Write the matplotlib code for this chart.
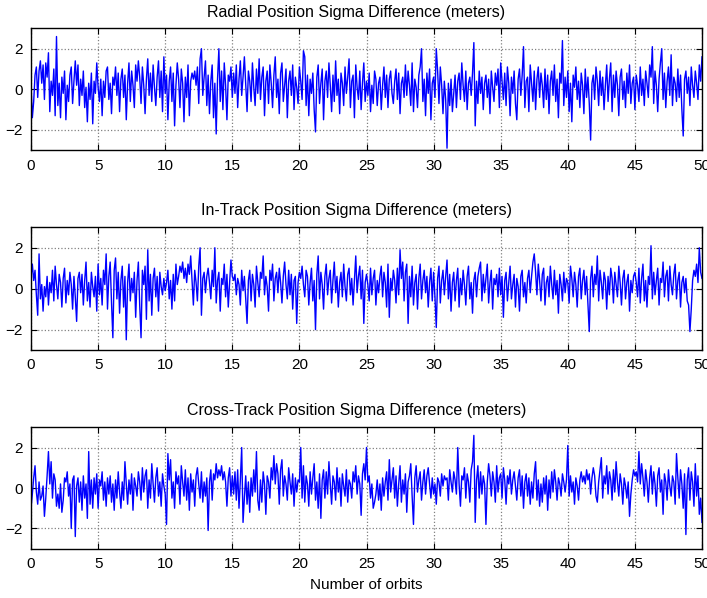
import numpy as np
import matplotlib
matplotlib.use("Agg")
import matplotlib.pyplot as plt

plt.rcParams['font.family'] = ['Liberation Sans', 'DejaVu Sans']

titles = ["Radial Position Sigma Difference (meters)",
          "In-Track Position Sigma Difference (meters)",
          "Cross-Track Position Sigma Difference (meters)"]
xlabel_text = "Number of orbits"
xticks = [0, 5, 10, 15, 20, 25, 30, 35, 40, 45, 50]
yticks = [-2, 0, 2]
sample_step = 0.1  # orbits between samples

radial = [
    0.2, -1.4, -0.6, 0.7, 1.1, -0.4, 0.9, 1.4, 0.3, 1.2,
    -0.5, 1.3, 0.6, 1.8, -1.1, 0.4, -0.3, 1.0, -1.3, 2.6,
    -0.8, 0.3, -1.4, 0.6, -0.2, 0.9, -1.5, 0.2, -0.6, 0.7,
    1.1, -0.7, 0.4, 1.4, 0.2, 1.2, -0.8, 0.5, -0.3, 0.9,
    -0.9, 0.1, -1.6, 0.3, -0.5, 0.8, -1.7, 0.4, -0.2, 1.3,
    0.1, -0.6, 0.5, -1.3, 0.4, -0.4, 0.9, 1.1, -0.5, 0.3,
    -1.2, 0.6, 0.2, 1.1, -0.3, 0.8, -1.1, 0.5, 1.0, -0.4,
    0.7, -1.5, 0.3, 1.3, -0.6, 0.9, 0.2, -0.9, 1.2, 0.4,
    1.4, 0.6, -0.7, 1.1, 0.2, -1.2, 0.5, 1.5, -0.3, 0.8,
    -0.6, 1.2, 0.1, -0.8, 0.6, 1.4, -0.4, 0.9, -1.1, 1.6,
    -0.2, 0.7, -1.5, 0.4, 1.1, -0.6, 0.8, -1.8, 0.2, 1.3,
    0.5, -0.9, 1.0, 0.3, -1.6, 0.6, -0.4, 1.2, -1.3, 0.4,
    0.8, 0.5, 0.9, 0.2, 1.1, -0.7, 1.5, 2.0, -0.3, 0.6,
    1.4, -0.8, 0.7, -1.2, 0.4, 1.2, -1.4, 0.3, -2.2, 0.5,
    2.0, -0.6, 0.9, -1.0, 1.3, 0.2, -1.5, 0.7, 0.4, 1.1,
    -0.4, 0.8, -0.2, 1.2, -0.9, 0.5, 1.4, -0.3, 0.6, 1.6,
    0.3, -1.1, 0.9, 0.4, -0.6, 1.3, 0.1, -0.8, 1.0, -0.2,
    1.5, -0.5, 0.6, 1.1, -1.3, 0.4, 0.9, -0.7, 1.2, 0.3,
    -0.9, 0.7, 1.6, -0.4, 0.5, -1.2, 0.8, 1.3, -0.6, 0.2,
    1.0, -1.4, 0.4, 0.9, -0.3, 1.2, -1.0, 0.6, 0.1, -0.7,
    1.1, 0.4, -0.5, 1.9, 1.6, -0.8, 0.7, -1.3, 0.5, -0.2,
    0.8, -1.0, -2.1, 0.6, 1.2, -0.7, 0.3, 1.0, -1.5, 0.4,
    0.9, -0.4, 1.3, 0.2, -1.1, 0.7, -0.6, 1.4, -0.3, 0.5,
    -1.2, 0.8, 0.3, -0.8, 1.1, -0.2, 0.6, 1.5, -0.9, 0.4,
    0.7, -1.4, 1.2, 0.1, -0.5, 0.9, -1.0, 0.3, 1.3, -0.6,
    0.4, -0.3, 0.8, -1.1, 0.2, -0.7, 0.9, 0.5, -0.8, 0.3,
    0.6, -1.0, 0.2, 1.1, -0.4, 0.7, -0.9, 0.5, 0.9, -0.2,
    -0.7, 0.4, 1.0, -0.5, 0.8, -1.2, 0.3, 0.6, -0.4, 1.2,
    -0.3, 0.9, 0.2, -0.8, 1.3, -1.1, 0.5, 0.1, -0.9, 0.7,
    1.1, 2.0, -0.6, 0.5, -1.3, 0.8, -0.2, 1.0, -1.5, 0.3,
    0.6, -0.4, 2.0, 0.9, -0.7, 1.1, 0.2, -1.2, 0.4, -0.5,
    -2.9, 0.3, -0.8, 0.5, -1.1, -0.2, 0.7, -0.9, 0.4, 0.8,
    -0.5, 1.3, 0.2, -0.6, 0.9, -1.0, 0.3, 0.6, -0.3, 0.8,
    2.3, -1.8, 0.4, -0.7, 0.9, -0.2, 0.6, -1.0, 0.3, 0.7,
    -0.4, 0.5, -1.2, 0.9, 0.1, -0.6, 0.8, 0.2, 1.0, -0.9,
    1.3, 0.4, -0.5, 0.8, -0.8, 1.1, 0.3, -1.3, 0.6, -0.2,
    0.9, -0.7, -1.5, 0.5, 1.0, -0.3, 0.7, 2.1, -0.9, 0.4,
    0.6, -1.1, 1.2, 0.3, -0.6, 0.9, -1.0, 0.5, 1.1, -0.4,
    0.8, 0.2, -0.9, 1.0, -0.5, 0.7, -1.2, 0.4, 0.9, -0.3,
    1.2, -0.6, 0.5, -1.4, 0.8, 0.3, 2.4, -0.8, 0.6, -0.4,
    0.9, -1.1, 0.3, -1.6, 0.7, 0.1, 1.1, -0.5, 0.4, -0.9,
    0.8, 0.2, -1.2, 1.0, -0.4, 0.6, -0.7, -2.5, 0.3, 0.7,
    -0.5, 1.1, 0.4, -0.8, 0.9, -0.3, 0.6, -1.0, 0.2, 1.2,
    -0.6, 0.5, 1.3, -1.1, 0.7, -0.4, 0.9, 0.2, -1.3, 0.6,
    1.0, -0.5, 0.4, -0.9, 0.8, -0.2, 1.2, -0.7, 0.3, 0.6,
    -1.0, 0.7, 0.2, -0.6, 1.1, -0.3, 0.5, -0.8, 0.9, 0.3,
    -0.4, 1.2, 0.6, 2.1, -0.7, 0.9, 0.2, -1.1, 0.5, 1.3,
    2.0, -0.5, 0.8, -0.9, 0.4, 1.1, -0.3, 1.7, -0.8, 0.6,
    0.3, -0.6, 1.0, -0.4, 0.7, -1.0, -2.3, 0.5, 0.9, -0.2,
    0.6, -0.8, 1.1, 0.2, -0.4, 0.9, 0.3, -0.5, 1.2, 0.4,
    1.6]

in_track = [
    0.6, 1.2, 0.4, 0.9, -0.3, -1.3, 1.7, -0.5, 0.2, -1.1,
    0.1, -0.4, 0.6, -0.8, 0.3, -0.2, 0.9, -0.6, 1.1, 0.2,
    -0.5, 0.7, 0.3, -0.9, 0.5, 1.0, -0.7, 0.4, -0.3, 0.8,
    0.2, -1.0, 0.6, -0.4, -1.6, 0.5, 0.8, -0.2, 0.7, -0.8,
    0.4, 1.3, -0.6, 0.3, -0.9, 0.8, 0.1, -0.4, 0.6, -1.1,
    1.2, -0.3, 0.5, -0.8, 0.9, 0.2, 1.7, -1.0, 0.6, 1.3,
    -0.7, -2.4, 0.9, 1.5, -0.5, 0.8, -1.2, 0.4, 1.1, -0.9,
    0.6, -2.5, 0.3, 1.2, -0.6, 0.5, -0.2, 0.8, -1.4, 0.4,
    1.3, -0.8, -2.4, 0.9, 0.2, 1.1, -1.5, 1.9, -0.6, 0.7,
    -1.3, 0.5, 1.0, -0.4, 0.6, -1.1, 0.8, 0.1, -0.3, 0.5,
    -0.1, 0.3, 0.9, -0.5, 0.4, -1.0, 0.7, -0.6, 1.2, 0.2,
    0.6, 1.1, 0.8, 1.3, 0.5, 1.0, 0.3, 1.2, 0.7, 1.6,
    0.4, -0.8, 0.9, 0.3, -0.6, 1.1, 2.0, -1.3, 0.5, 0.8,
    -0.2, 0.6, 1.0, 0.3, -0.5, 0.9, 0.1, 2.0, -0.7, 0.4,
    0.8, -1.1, 0.5, 0.2, 1.2, -0.4, 0.7, -0.9, 0.3, 1.4,
    0.6, 0.4, 0.7, -0.3, 0.5, 0.2, -0.8, 0.9, -0.1, 0.6,
    -0.5, -1.7, 0.4, 0.9, -0.6, 0.7, 0.2, -0.9, 1.1, 0.3,
    -0.4, 0.8, 0.5, 1.6, -0.3, 0.6, 0.1, -1.1, 0.9, 0.4,
    1.2, -0.6, 0.5, 0.8, -0.2, 1.0, 0.3, -0.7, 0.6, 1.3,
    0.2, -0.5, 0.9, -0.3, 0.7, -1.0, 0.4, 0.6, -1.7, 0.3,
    0.8, 0.5, 1.1, 0.2, -0.4, 0.9, 0.6, -0.8, 0.3, 1.0,
    -0.6, 0.4, -2.0, 0.7, 1.6, -0.5, 0.8, 0.2, -1.0, 0.6,
    1.2, -0.3, 0.5, 0.9, -0.7, 0.4, 1.3, -0.2, 0.6, -0.9,
    0.3, 0.8, -0.4, 1.2, 0.1, -0.6, 0.7, 1.0, -0.3, 0.5,
    -0.8, 0.4, 1.6, -0.2, 0.6, 1.1, -0.5, 0.9, -1.7, 0.3,
    0.7, 0.2, -0.6, 1.0, -0.3, 0.5, 0.9, -0.8, 0.4, -0.2,
    0.6, 1.1, -0.4, 0.8, 0.3, -0.9, 1.2, -1.4, 0.5, -0.1,
    0.9, 0.4, -0.7, 1.0, -0.3, 1.9, 0.5, 1.3, -0.6, 0.8,
    1.2, -1.7, 0.6, -0.4, 1.1, -0.8, 0.3, 0.7, -1.0, 0.5,
    1.2, -0.5, 0.4, 0.9, -0.2, 0.6, -0.9, 0.3, 1.0, -0.6,
    0.8, -0.4, -1.9, 0.5, 1.1, -0.7, 0.4, 0.9, -0.3, 0.6,
    1.4, -0.5, 0.7, -1.1, 0.3, 0.8, -0.6, 0.4, 1.0, -0.9,
    0.5, -0.3, 0.9, 0.2, -0.8, 0.6, 1.1, -0.5, 0.3, -1.2,
    0.4, 0.8, -0.4, 0.6, 1.0, 1.3, -0.6, 0.7, -0.2, 0.5,
    1.2, -0.7, 0.3, 0.9, -1.0, 0.5, 0.2, 0.7, -0.4, 1.0,
    -0.3, 0.6, -1.4, 0.4, 0.8, -0.6, 0.3, 1.1, -0.5, 0.2,
    0.7, -0.9, 0.5, 0.1, -1.1, 0.6, 0.9, -0.4, 0.3, -0.7,
    0.5, 0.9, -0.2, 0.6, 1.3, 1.7, 0.8, -0.3, 1.2, 0.4,
    -0.6, 0.7, 1.0, -0.8, 0.3, 0.6, -0.4, 1.1, 0.2, -0.5,
    0.9, -0.3, 0.4, -1.2, 0.7, 0.2, -0.6, 0.8, -0.2, 0.5,
    0.3, -0.7, 1.1, 0.5, -0.4, 0.8, 0.2, -0.9, 0.6, 1.0,
    -0.5, 0.4, 0.9, -0.3, 0.6, -0.8, -2.1, 0.5, 1.1, -0.4,
    0.7, 0.2, 1.6, -0.6, 0.9, 0.3, -0.5, 0.8, 0.4, -1.0,
    0.6, -0.3, 1.0, 0.5, -0.7, 0.8, 0.2, -0.4, 1.1, 0.3,
    -0.8, 0.5, 0.9, -0.5, 0.3, 0.7, -1.1, 0.4, -0.2, 0.6,
    0.8, 0.3, -0.4, 1.0, -0.7, 0.5, 1.2, -0.6, 0.4, -0.9,
    0.6, 0.2, 2.1, -0.5, 0.8, -0.3, 0.4, 1.0, -0.8, 0.5,
    0.3, 1.3, -0.4, 0.6, 0.9, -0.6, 1.1, 0.2, -0.3, 0.7,
    1.2, -0.5, 0.4, 0.8, -0.9, 0.3, 0.6, -0.2, 0.5, -0.6,
    -0.8, -2.1, -1.0, 0.4, 0.9, 0.6, 1.2, 0.3, 2.0, 0.8,
    0.5]

cross_track = [
    -1.0, -0.3, 0.5, 1.1, -0.2, -0.8, 0.3, -0.6, -0.4, 0.1,
    -1.4, -0.5, 0.6, 1.8, 0.2, 1.3, -0.5, 0.7, 0.4, -0.9,
    -0.3, -1.0, 0.2, -1.2, -0.6, 0.5, 0.3, 0.8, -0.4, 0.2,
    -2.0, 0.4, 0.6, -2.4, 0.1, 0.5, -0.7, 0.3, -1.1, 0.6,
    -0.5, 0.2, -1.5, 1.8, -0.8, 0.4, -1.0, 0.5, -0.3, 0.7,
    -1.0, 0.4, 0.1, 0.8, -0.6, 0.3, -0.9, 0.5, -0.3, 0.6,
    -0.7, 0.2, -1.1, 0.4, -0.5, 0.8, -0.2, -1.0, 0.3, -0.6,
    1.3, 0.2, -0.8, 0.4, -0.3, 0.7, -1.1, 0.5, 0.1, -0.4,
    0.8, 0.3, -0.6, 1.0, -0.2, 0.6, 0.9, -1.0, 0.4, -0.5,
    1.2, 0.2, -0.7, 0.5, 1.0, -0.4, 0.3, -0.9, 0.7, 0.1,
    -0.3, -1.8, 1.7, 0.4, 1.4, -0.5, 0.3, -1.0, 0.8, 0.2,
    0.6, -0.8, 1.1, 0.3, -0.4, 0.9, -0.6, 0.5, -1.1, 0.7,
    -0.2, 0.4, -0.9, 0.6, 1.0, 0.2, -0.5, 0.8, -0.7, 0.3,
    -0.4, 0.5, -2.1, 0.3, 0.9, -0.6, 0.7, 0.4, 1.2, 0.5,
    0.9, 0.6, 1.1, 0.4, 0.8, 0.3, -0.9, 0.5, 1.0, -0.4,
    0.6, -0.3, 0.8, -0.6, 0.9, -1.0, 0.4, 2.0, -1.7, -0.5,
    0.6, -0.8, 0.3, -1.2, 0.5, -0.4, 0.9, -0.2, 1.8, -0.6,
    -1.1, 0.4, -0.7, 0.8, 0.2, -1.3, 0.6, 0.3, -0.5, 1.0,
    0.4, 1.6, 0.2, 1.2, 0.7, -0.8, 0.9, 1.4, -0.4, 0.6,
    0.2, -0.6, 1.0, 0.3, -0.3, 0.7, -0.9, 0.5, -0.2, 0.4,
    0.3, 2.0, -0.5, 1.1, -0.7, 0.6, 0.2, -0.9, 0.8, -0.3,
    0.5, 1.2, -0.6, 0.3, -1.0, 0.7, -1.5, 0.4, 0.9, -0.5,
    0.8, -0.3, 1.3, 0.2, -0.8, 0.6, 0.3, -0.6, 1.0, -0.2,
    0.5, -0.9, 0.7, 0.1, -0.4, 0.9, -0.7, 0.4, 0.2, -0.5,
    0.8, 0.3, 1.1, -0.3, 0.6, 0.2, -1.35, 0.7, 1.2, 0.4,
    2.0, 0.3, 0.6, -0.5, 0.2, -1.0, -0.7, -0.3, 0.4, -0.6,
    0.2, -1.1, 0.5, -0.4, 0.3, 0.8, -0.6, 1.4, -0.2, 0.4,
    1.0, -0.5, 0.6, -0.9, 0.2, 1.1, -0.7, 0.4, -0.3, 0.7,
    -1.2, 0.3, 0.6, 1.2, -0.4, -1.8, 0.5, 1.1, -0.2, 0.4,
    0.8, -0.6, 0.3, 0.9, -0.3, 0.6, 1.0, 0.2, -0.5, 0.5,
    -0.3, 0.2, -0.8, 0.5, 0.3, -0.4, 0.7, 0.1, 0.6, 0.4,
    0.5, -0.6, 0.9, 0.3, -0.2, 0.8, 0.4, -0.3, 2.0, 0.2,
    -0.9, 0.6, 0.4, 1.0, -0.5, 0.7, 0.3, -0.7, 0.9, 1.3,
    2.6, -1.7, 0.4, 1.1, -0.5, 0.8, -0.3, 0.6, 0.2, -1.8,
    0.3, 1.2, 0.6, -0.4, 0.8, 0.3, -0.7, 1.1, -0.2, 0.5,
    0.7, -0.5, 1.0, 0.4, -0.8, 0.6, 0.2, 0.9, -0.3, 0.4,
    0.8, 0.1, -0.6, 0.5, 0.9, -0.4, 0.6, -1.0, 0.3, 0.7,
    -0.4, 0.5, -0.8, 0.3, -0.5, 0.7, 1.3, -0.6, 0.4, -0.9,
    0.2, -0.7, 0.5, -0.3, 0.6, -1.1, 0.4, -0.5, 0.8, -0.2,
    0.9, 0.3, -0.6, 0.5, 0.2, -0.4, 0.7, 0.3, -0.2, 0.4,
    2.1, -0.4, 0.6, -0.2, 0.3, -0.8, 0.5, 0.1, -0.6, 0.4,
    0.8, 0.3, 0.6, 0.2, 0.9, 0.4, 0.7, -0.3, 0.5, 1.0,
    0.6, -0.4, -0.7, 0.3, 0.9, 1.5, -0.5, 0.6, 0.2, 1.1,
    -0.3, 0.8, 0.4, -0.6, 0.9, -0.2, 1.3, 0.3, -0.4, 0.7,
    0.2, -0.8, 0.5, 0.1, -0.5, 0.3, -1.4, -0.3, 0.4, 0.9,
    0.6, 0.8, 0.3, 1.8, 0.2, 1.2, 0.5, -0.4, 0.9, 0.3,
    -0.7, 0.5, 1.1, -0.3, 0.8, 0.2, -0.9, 0.6, 1.0, -0.2,
    0.4, -1.3, 0.7, 0.3, -0.6, 0.9, 0.1, -0.4, 0.6, 0.3,
    -0.8, 1.7, 0.5, -0.5, 0.9, 0.2, -1.0, 0.7, -2.3, 0.4,
    1.0, -0.6, 0.8, 0.3, -0.9, 1.2, -0.4, 0.6, -1.3, -0.5,
    -1.7]

series = [radial, in_track, cross_track]

W, H = 707, 598
fig = plt.figure(figsize=(W / 100, H / 100), dpi=100)
fig.patch.set_facecolor('white')

left_px, right_px = 31, 702
panel_px = [(28.4, 150.2), (227.3, 350.0), (427.3, 548.7)]

for (top, bot), vals, title in zip(panel_px, series, titles):
    ax = fig.add_axes([left_px / W, 1 - bot / H, (right_px - left_px) / W, (bot - top) / H])
    y = np.asarray(vals)
    x = np.arange(len(y)) * sample_step
    ax.plot(x, y, color='#0000ff', linewidth=1.0)
    ax.set_xlim(0, 50)
    ax.set_ylim(-3, 3)
    ax.set_xticks(xticks)
    ax.set_yticks(yticks)
    ax.grid(True, color='#808080', linestyle=':', linewidth=0.9)
    ax.set_axisbelow(True)
    ax.tick_params(direction='in', top=True, right=True, length=4, width=0.8,
                   labelsize=11, pad=6)
    for s in ax.spines.values():
        s.set_linewidth(1.0)
        s.set_color('black')
    t = ax.set_title(title, fontsize=11.5, pad=8.5)
    t.set_x(0.485)

ax.set_xlabel(xlabel_text, fontsize=11, labelpad=5)

fig.savefig('out.png', dpi=100, facecolor='white')
